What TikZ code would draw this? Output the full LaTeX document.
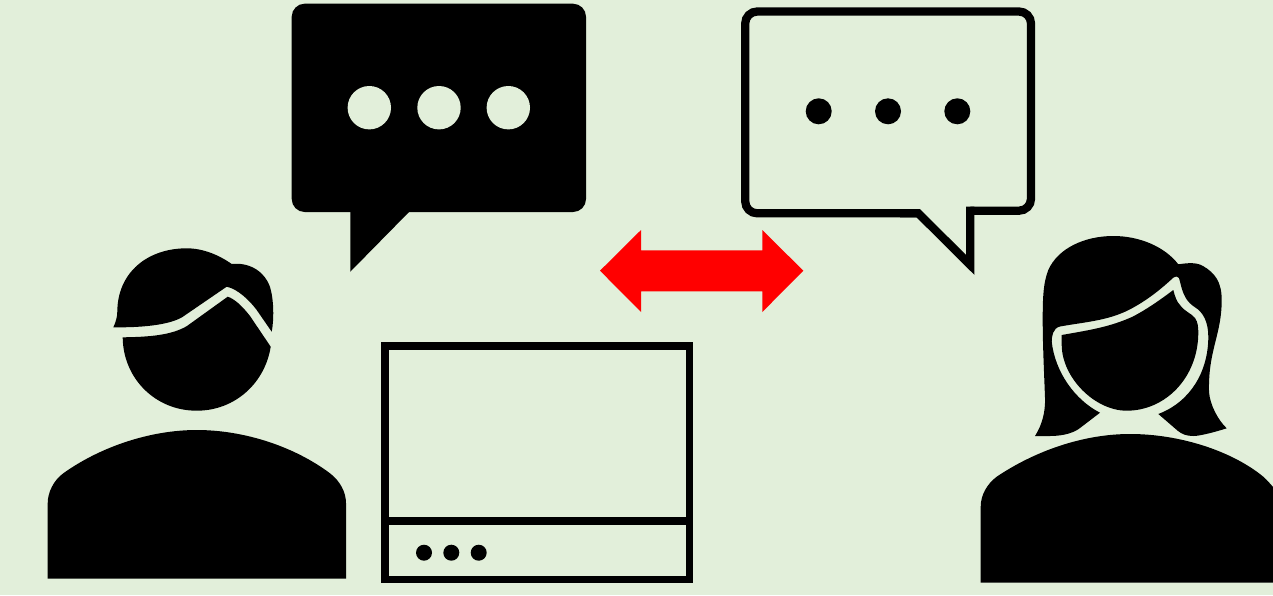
\documentclass[tikz,border=0pt]{standalone}
\usepackage{xcolor}
\usepackage{tikz}
\definecolor{paleGreen}{RGB}{226,239,218}

\begin{document}
\begin{tikzpicture}[x=0.02cm,y=-0.02cm,line join=miter,
    bubbleOutline/.style={draw=black,line width=0.165cm,miter limit=10},
    screenLine/.style={draw=black,line width=0.154cm}]
  \useasboundingbox (0,0) rectangle (1273,595);
  \fill[paleGreen] (0,0) rectangle (1273,595);

  % left person
  \fill (113.3,327.3) .. controls (116,322) and (117.3,316) .. (117.3,311.7)
    .. controls (117.5,272) and (148,248.3) .. (186.7,248.3)
    .. controls (203,248.3) and (219,255) .. (231.7,264)
    .. controls (250,262) and (265,272) .. (270,287)
    .. controls (274,300) and (274,320) .. (271.7,331.7)
    -- (256.7,310) .. controls (250,301) and (238,289) .. (226.7,286.7)
    -- (182,317.3) .. controls (165,327) and (130,327.5) .. (113.3,327.3) -- cycle;
  \fill (122.7,337.3) .. controls (150,337) and (172,335) .. (187,326)
    -- (227.7,296.7) .. controls (235,299) and (243,307) .. (250,316)
    -- (270.7,346.7) .. controls (265,383) and (235,410.7) .. (196.7,410.7)
    .. controls (155,410.7) and (123,378) .. (122.7,337.3) -- cycle;
  \fill (47.7,578.7) -- (47.7,503.3) .. controls (47.7,492) and (54,480) .. (63.3,473.3)
    .. controls (100,447) and (150,430) .. (196.7,430)
    .. controls (245,430) and (295,447) .. (330,473.3)
    .. controls (340,481) and (346,492) .. (346,503.3) -- (346,578.7) -- cycle;

  % right person
  \fill (1035,436) .. controls (1042,425) and (1045.5,412) .. (1045,398)
    .. controls (1044,370) and (1042.7,345) .. (1042.7,320)
    .. controls (1042.7,300) and (1043,283) .. (1048.3,270)
    .. controls (1058,248) and (1085,236) .. (1113.3,236)
    .. controls (1140,236) and (1165,247) .. (1178.3,264.3)
    .. controls (1188,263) and (1196,262) .. (1203,266)
    .. controls (1215,273) and (1221.7,282) .. (1221.7,300)
    .. controls (1221.7,335) and (1208,350) .. (1209,392)
    .. controls (1210,405) and (1218,420) .. (1226.7,428.3)
    .. controls (1215,432) and (1200,436) .. (1193.3,436)
    .. controls (1186,436) and (1182,434) .. (1178,431) -- (1158.3,414)
    .. controls (1190,402) and (1208.3,372) .. (1208.3,336.7)
    .. controls (1208.3,322) and (1203,312) .. (1195,307.3)
    .. controls (1187,302) and (1184,296) .. (1181.7,288.3) -- (1179,278)
    .. controls (1178,276) and (1175,276) .. (1173.5,277.5)
    .. controls (1160,290) and (1145,302) .. (1126.7,311)
    .. controls (1105,321) and (1085,322) .. (1060,326.5)
    .. controls (1053,328) and (1051.7,336) .. (1051.7,341.7)
    .. controls (1055,372) and (1075,400) .. (1100,412.7) -- (1080,428)
    .. controls (1075,432) and (1065,436) .. (1050,436) -- cycle;
  \fill (1061.7,335) .. controls (1090,330) and (1110,327) .. (1133,316.5)
    .. controls (1148,308.5) and (1160,300) .. (1173.3,290)
    .. controls (1175,297) and (1177,302) .. (1180,305)
    .. controls (1185,312) and (1191,313) .. (1195,318)
    .. controls (1198,322) and (1198.3,328) .. (1198.3,333)
    .. controls (1198,378) and (1165,410.7) .. (1126.7,410.7)
    .. controls (1095,410.7) and (1062,378) .. (1061.7,345) -- cycle;
  \fill (980.7,582.7) -- (980.7,506.7) .. controls (980.7,495) and (987,484) .. (996.7,476.7)
    .. controls (1035,451) and (1083,434) .. (1130,434)
    .. controls (1180,434) and (1232,451) .. (1263.3,476.7)
    .. controls (1267,480) and (1270,483.5) .. (1273,487) -- (1273,582.7) -- cycle;

  % speech bubbles
  \fill[rounded corners=13*0.02cm] (291.7,3.7) -- (586,3.7) -- (586,212) -- (291.7,212) -- cycle;
  \fill (350.3,205) -- (350.3,271.7) -- (409,212) -- (409,205) -- cycle;
  \foreach \xpos in {369.3,439,508.3}
    \fill[paleGreen] (\xpos,107.7) circle (21.7);

  \draw[bubbleOutline,rounded corners=12*0.02cm] (918.3,213.3) -- (745.2,213.3) -- (745.2,11.5)
    -- (1031,11.5) -- (1031,210.7) -- (970.3,210.7);
  \draw[bubbleOutline] (970.3,206.5) -- (970.3,265) -- (918.3,213.3) -- (900,213.3);
  \foreach \xpos in {818.7,888,957.3}
    \fill (\xpos,111.3) circle (13);

  % double arrow
  \fill[red] (600,270.7) -- (641,230) -- (641,250.3) -- (762.3,250.3) -- (762.3,230)
    -- (803.3,270.7) -- (762.3,312) -- (762.3,291.3) -- (641,291.3) -- (641,312) -- cycle;

  % screen
  \draw[screenLine] (384.8,346.2) rectangle (689.5,579.5);
  \draw[screenLine] (384.8,521.3) -- (689.5,521.3);
  \foreach \xpos in {424,451.3,478.7}
    \fill (\xpos,552.7) circle (8);
\end{tikzpicture}
\end{document}
